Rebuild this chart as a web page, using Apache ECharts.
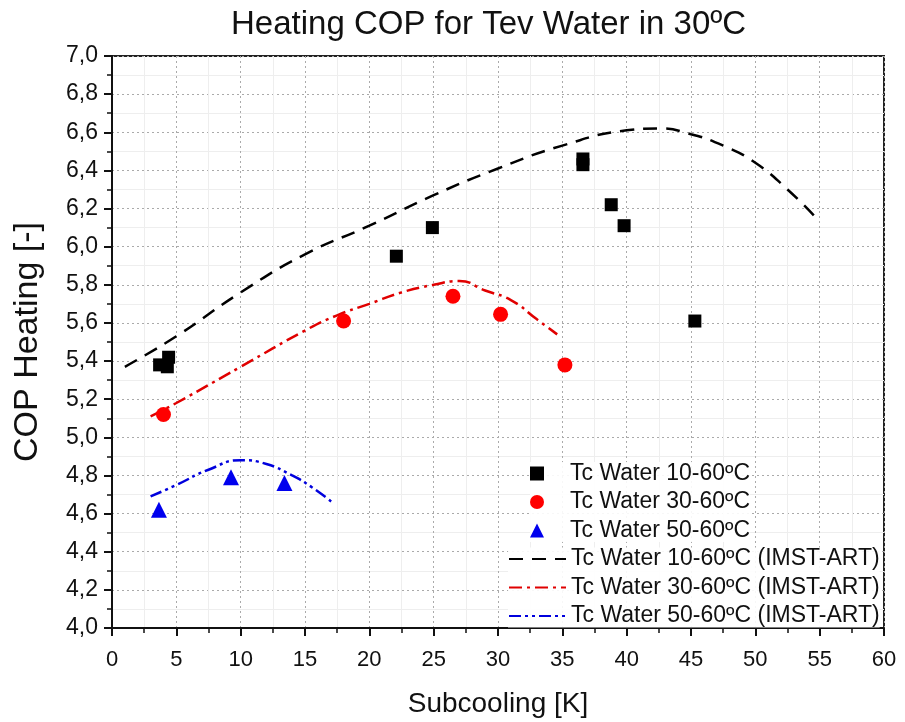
<!DOCTYPE html>
<html><head><meta charset="utf-8">
<script src="https://cdn.jsdelivr.net/npm/echarts@6/dist/echarts.min.js"></script>
<style>html,body{margin:0;padding:0;background:#fff}#c{width:905px;height:722px}</style>
</head><body><div id="c"></div>
<script>
const expNames = ['Tc Water 10-60ºC','Tc Water 30-60ºC','Tc Water 50-60ºC'];
const simNames = ['Tc Water 10-60ºC (IMST-ART)','Tc Water 30-60ºC (IMST-ART)','Tc Water 50-60ºC (IMST-ART)'];
const exp10x = [3.7, 4.4, 4.3, 22.1, 24.9, 36.6, 36.6, 38.8, 39.8, 45.3];
const exp10y = [5.38, 5.42, 5.37, 5.95, 6.10, 6.46, 6.43, 6.22, 6.11, 5.61];
const exp30x = [4.0, 18.0, 26.5, 30.2, 35.2];
const exp30y = [5.12, 5.61, 5.74, 5.645, 5.38];
const exp50x = [3.65, 9.25, 13.4];
const exp50y = [4.62, 4.79, 4.76];
const sim10x = [1, 5, 10, 15, 20, 25, 30, 35, 40, 42.5, 45, 47.5, 50, 52.5, 54.6];
const sim10y = [5.37, 5.53, 5.76, 5.96, 6.11, 6.27, 6.41, 6.53, 6.61, 6.62, 6.59, 6.53, 6.44, 6.30, 6.16];
const sim30x = [3, 5, 10, 15, 17.5, 20, 22.5, 25, 27, 29, 31, 33, 34.6];
const sim30y = [5.11, 5.18, 5.37, 5.56, 5.64, 5.70, 5.76, 5.80, 5.82, 5.77, 5.72, 5.62, 5.54];
const sim50x = [3, 5, 7.5, 10, 12, 14, 15.5, 17.1];
const sim50y = [4.69, 4.75, 4.83, 4.88, 4.86, 4.80, 4.74, 4.66];

const zip = (a, b) => a.map((v, i) => [v, b[i]]);
const chart = echarts.init(document.getElementById('c'));
const FF = 'Liberation Sans, Arial, sans-serif';
const legText = {fontFamily: FF, fontSize: 23, color: '#111'};
chart.setOption({
  animation: false,
  backgroundColor: '#fff',
  title: {text: 'Heating COP for Tev Water in 30ºC', left: 226, top: 3,
    textStyle: {fontFamily: FF, fontSize: 33, fontWeight: 'normal', color: '#111'}},
  grid: {left: 112, right: 21, top: 56, bottom: 94, show: true, borderColor: '#222', borderWidth: 2,
    containLabel: false, outerBoundsMode: 'none'},
  legend: [
    {orient: 'vertical', left: 530, top: 462, itemWidth: 14, itemHeight: 14, itemGap: 5.5,
      textStyle: Object.assign({padding: [0, 0, 0, 21]}, legText), data: expNames,
      backgroundColor: 'rgba(255,255,255,0.9)', padding: 0},
    {orient: 'vertical', left: 508, top: 547.5, itemWidth: 57, itemHeight: 14, itemGap: 5.5,
      textStyle: legText, data: simNames, itemStyle: {opacity: 0},
      backgroundColor: 'rgba(255,255,255,0.9)', padding: 0}
  ],
  xAxis: {
    type: 'value', min: 0, max: 60, interval: 5,
    name: 'Subcooling [K]', nameLocation: 'middle', nameGap: 62,
    nameTextStyle: {fontFamily: FF, fontSize: 28, color: '#111'},
    axisLine: {onZero: false, lineStyle: {color: '#111', width: 2}},
    axisTick: {show: true, length: 8, lineStyle: {color: '#111', width: 2}},
    minorTick: {show: true, splitNumber: 2, length: 5, lineStyle: {color: '#111', width: 1.5}},
    axisLabel: {margin: 21, fontFamily: FF, fontSize: 22, color: '#111'},
    splitLine: {show: true, lineStyle: {color: '#aaa', type: [2, 3], width: 1}},
    minorSplitLine: {show: true, lineStyle: {color: '#eee', width: 1}}
  },
  yAxis: {
    type: 'value', min: 4, max: 7, interval: 0.2,
    name: 'COP Heating [-]', nameLocation: 'middle', nameGap: 67,
    nameTextStyle: {fontFamily: FF, fontSize: 34, color: '#111'},
    axisLine: {onZero: false, lineStyle: {color: '#111', width: 2}},
    axisTick: {show: true, length: 8, lineStyle: {color: '#111', width: 2}},
    minorTick: {show: true, splitNumber: 2, length: 5, lineStyle: {color: '#111', width: 1.5}},
    axisLabel: {margin: 14, fontFamily: FF, fontSize: 23, color: '#111',
      formatter: v => v.toFixed(1).replace('.', ',')},
    splitLine: {show: true, lineStyle: {color: '#aaa', type: [2, 3], width: 1}},
    minorSplitLine: {show: true, lineStyle: {color: '#eee', width: 1}}
  },
  series: [
    {name: expNames[0], type: 'scatter', symbol: 'rect', symbolSize: 13, itemStyle: {color: '#000', opacity: 1}, data: zip(exp10x, exp10y), z: 5},
    {name: expNames[1], type: 'scatter', symbol: 'circle', symbolSize: 15, itemStyle: {color: '#ff0000', opacity: 1}, data: zip(exp30x, exp30y), z: 5},
    {name: expNames[2], type: 'scatter', symbol: 'triangle', symbolSize: 16, itemStyle: {color: '#0000ee', opacity: 1}, data: zip(exp50x, exp50y), z: 5},
    {name: simNames[0], type: 'line', smooth: true, showSymbol: false, symbol: 'none', data: zip(sim10x, sim10y),
      itemStyle: {color: '#000'}, lineStyle: {color: '#000', width: 2.5, type: [14, 9]}},
    {name: simNames[1], type: 'line', smooth: true, showSymbol: false, symbol: 'none', data: zip(sim30x, sim30y),
      itemStyle: {color: '#e00000'}, lineStyle: {color: '#e00000', width: 2.5, type: [13, 5, 3, 5]}},
    {name: simNames[2], type: 'line', smooth: true, showSymbol: false, symbol: 'none', data: zip(sim50x, sim50y),
      itemStyle: {color: '#0000dd'}, lineStyle: {color: '#0000dd', width: 2.5, type: [12, 4, 3, 4, 3, 4]}}
  ]
});
</script></body></html>
